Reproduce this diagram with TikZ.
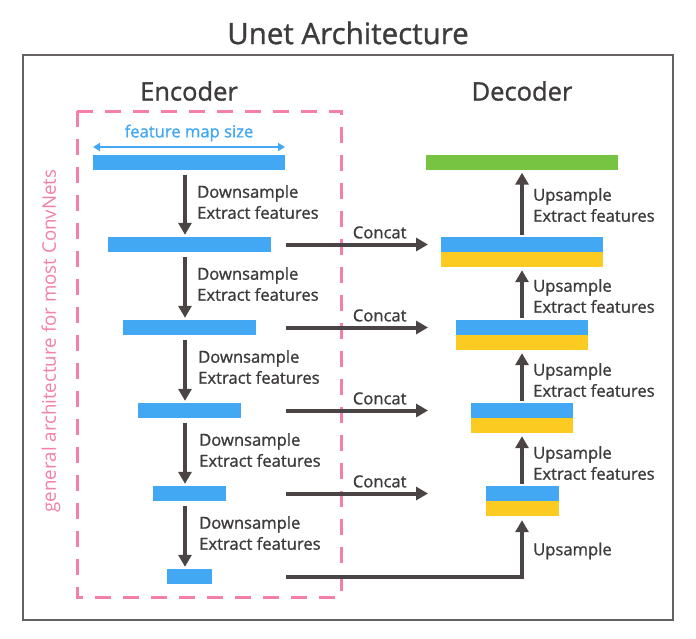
\documentclass[tikz,border=0pt]{standalone}
\usepackage{fontspec}
\setmainfont{Open Sans}
\newfontfamily\semi[FakeBold=1.1]{Open Sans}
\usetikzlibrary{arrows.meta}
\definecolor{txt}{HTML}{3E3B3B}
\definecolor{arrc}{HTML}{4A4544}
\definecolor{bblue}{HTML}{42A8F4}
\definecolor{byel}{HTML}{FBCB21}
\definecolor{bgreen}{HTML}{76C442}
\definecolor{pinkc}{HTML}{F47FA8}
\tikzset{
  bar/.style={draw=none,inner sep=0pt,minimum height=15pt,fill=bblue},
  ybar/.style={bar,fill=byel},
  gbar/.style={bar,fill=bgreen},
  arr/.style={draw=arrc,line width=4pt,-{Triangle[length=12pt,width=13pt]}},
  lbl/.style={text=txt,font=\semi\fontsize{16.6}{21}\selectfont,align=left,anchor=west,inner sep=0pt},
  clbl/.style={text=txt,font=\semi\fontsize{16.6}{21}\selectfont,inner sep=0pt},
  hd/.style={text=txt,font=\semi\fontsize{25.5}{30}\selectfont,inner sep=0pt}
}
\begin{document}
\begin{tikzpicture}[x=1pt,y=-1pt]
\useasboundingbox (0,0) rectangle (696,638);
\fill[white] (0,0) rectangle (696,638);
\node[text=txt,font=\semi\fontsize{29.5}{34}\selectfont,inner sep=0pt] (title) at (348,33) {Unet Architecture};
\draw[draw=arrc!85,line width=1.6pt] (23,55) rectangle (673,620);
\node[hd] (enc) at (189,91) {Encoder};
\node[hd] (dec) at (522,91) {Decoder};
\draw[pinkc,line width=3pt,dash pattern=on 16pt off 12pt] (77,111) rectangle (341,597);
\node[text=pinkc,rotate=90,font=\fontsize{18.7}{20}\selectfont,inner sep=0pt] (gen) at (51,341) {general architecture for most ConvNets};
% encoder bars
\node[bar,minimum width=192pt] (e1) at (189,162) {};
\node[bar,minimum width=163pt] (e2) at (189,244.5) {};
\node[bar,minimum width=133pt] (e3) at (189,327.5) {};
\node[bar,minimum width=103pt] (e4) at (189,410.5) {};
\node[bar,minimum width=73pt] (e5) at (189,493.5) {};
\node[bar,minimum width=45pt] (e6) at (189,576.5) {};
% feature map size
\node[text=bblue,font=\semi\fontsize{16.6}{18}\selectfont,inner sep=0pt] (fms) at (189,133) {feature map size};
\coordinate (fa) at (93,147);
\coordinate (fb) at (285,147);
\draw[bblue,line width=2pt,{Triangle[length=7pt,width=8pt]}-{Triangle[length=7pt,width=8pt]}] (fa) -- (fb);
% decoder bars
\node[gbar,minimum width=192pt] (g) at (522,162) {};
\node[bar,minimum width=162pt] (d1b) at (522,244.5) {};
\node[ybar,minimum width=162pt] (d1y) at (522,259.5) {};
\node[bar,minimum width=132pt] (d2b) at (522,327.5) {};
\node[ybar,minimum width=132pt] (d2y) at (522,342.5) {};
\node[bar,minimum width=102pt] (d3b) at (522,410.5) {};
\node[ybar,minimum width=102pt] (d3y) at (522,425.5) {};
\node[bar,minimum width=73pt] (d4b) at (522,493.5) {};
\node[ybar,minimum width=73pt] (d4y) at (522,508.5) {};
% down arrows
\foreach \a/\b in {e1/e2,e2/e3,e3/e4,e4/e5,e5/e6}{
  \draw[arr] ([xshift=-4pt,yshift=-5pt]\a.south) -- ([xshift=-4pt,yshift=2pt]\b.north);
}
\node[lbl] (l1) at (197,202) {Downsample\\Extract features};
\node[lbl] (l2) at (197,284) {Downsample\\Extract features};
\node[lbl] (l3) at (198,367) {Downsample\\Extract features};
\node[lbl] (l4) at (199,450) {Downsample\\Extract features};
\node[lbl] (l5) at (199,533) {Downsample\\Extract features};
% concat arrows
\coordinate (cs) at (286,0);
\coordinate (ce) at (428,0);
\foreach \a/\b in {e2/d1b,e3/d2b,e4/d3b,e5/d4b}{
  \draw[arr] (\a -| cs) -- node[pos=0.66,above=4pt,clbl]{Concat} (\b -| ce);
}
% up arrows
\draw[arr] ([yshift=2pt]d1b.north) -- ([yshift=-3pt]g.south);
\draw[arr] ([yshift=2pt]d2b.north) -- ([yshift=-3pt]d1y.south);
\draw[arr] ([yshift=2pt]d3b.north) -- ([yshift=-3pt]d2y.south);
\draw[arr] ([yshift=2pt]d4b.north) -- ([yshift=-3pt]d3y.south);
\node[lbl] (u1) at (533,205) {Upsample\\Extract features};
\node[lbl] (u2) at (533,296) {Upsample\\Extract features};
\node[lbl] (u3) at (533,380) {Upsample\\Extract features};
\node[lbl] (u4) at (533,463) {Upsample\\Extract features};
% bottom
\draw[arr] (e6 -| cs) -| ([yshift=-4pt]d4y.south);
\node[lbl] (u5) at (533,551) {Upsample};
\end{tikzpicture}
\end{document}
